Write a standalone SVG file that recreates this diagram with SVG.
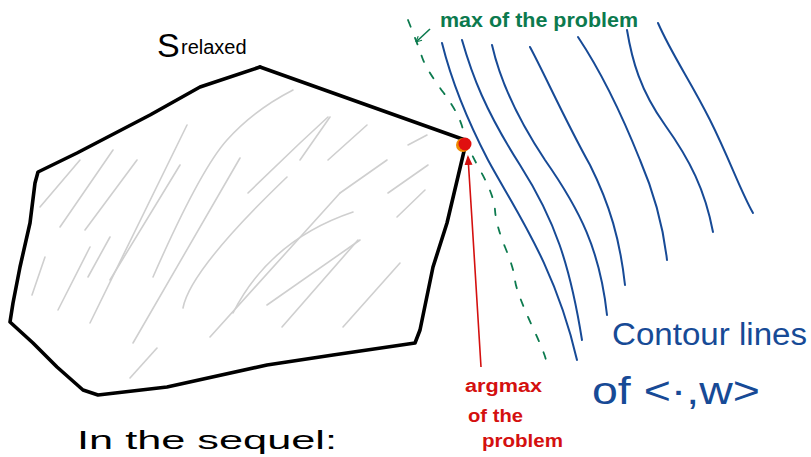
<svg xmlns="http://www.w3.org/2000/svg" width="811" height="457" viewBox="0 0 811 457">
<defs>
<style>
.hatch{fill:none;stroke:#cfcfcf;stroke-width:1.6;stroke-linecap:round;stroke-linejoin:round}
.poly{fill:none;stroke:#000;stroke-width:3.6;stroke-linecap:round;stroke-linejoin:round}
.contour{fill:none;stroke:#174a96;stroke-width:2;stroke-linecap:round;stroke-linejoin:round}
.maxline{fill:none;stroke:#0c7a4e;stroke-width:1.8;stroke-dasharray:7 12;stroke-linecap:round}
.hand{font-family:"Liberation Sans",Arial,sans-serif}
</style>
<marker id="gArrow" viewBox="0 0 10 10" refX="9" refY="5" markerWidth="7" markerHeight="7" orient="auto-start-reverse" markerUnits="userSpaceOnUse">
<path d="M1,1 L9,5 L1,9" fill="none" stroke="#0c7a4e" stroke-width="1.6"/>
</marker>
<marker id="rArrow" viewBox="0 0 10 10" refX="8" refY="5" markerWidth="10" markerHeight="10" orient="auto" markerUnits="userSpaceOnUse">
<path d="M0,1 L10,5 L0,9 Z" fill="#d4100f"/>
</marker>
</defs>
<rect width="811" height="457" fill="#fff"/>

<g id="feasible-set">
<g id="hatching">
<path class="hatch" d="M60,227 L113,150"/>
<path class="hatch" d="M85,230 L137,160"/>
<path class="hatch" d="M40,207 L80,160"/>
<path class="hatch" d="M32,295 L45,257"/>
<path class="hatch" d="M58,310 L90,247"/>
<path class="hatch" d="M90,323 L187,125"/>
<path class="hatch" d="M110,280 L180,165"/>
<path class="hatch" d="M133,343 L240,158"/>
<path class="hatch" d="M153,277 Q200,170 227,140 T293,90"/>
<path class="hatch" d="M183,308 Q190,270 287,177"/>
<path class="hatch" d="M210,337 L340,193"/>
<path class="hatch" d="M233,313 Q270,240 353,212"/>
<path class="hatch" d="M267,305 L360,240"/>
<path class="hatch" d="M282,327 L358,240"/>
<path class="hatch" d="M343,327 L400,263"/>
<path class="hatch" d="M248,193 L300,143 L328,117"/>
<path class="hatch" d="M300,160 L330,117"/>
<path class="hatch" d="M328,160 L367,125"/>
<path class="hatch" d="M340,193 L387,160"/>
<path class="hatch" d="M388,193 L428,165"/>
<path class="hatch" d="M397,217 L425,190"/>
<path class="hatch" d="M408,145 L427,135"/>
<path class="hatch" d="M130,378 L157,348"/>
<path class="hatch" d="M88,277 L110,237"/>
</g>
<path class="poly" d="M260,67 L465,140"/>
<path class="poly" d="M465,147 L447,223 L433,267 L420,330 L415,343 L333,355 L267,365 L167,387 L98,395 L83,390 L57,367 L33,343 L10,322 L13,303 L20,267 L30,223 L35,183 L38,172 L77,153 L150,115 L200,87 L260,67"/>
<text class="hand" x="157" y="57" font-size="34" fill="#000">S<tspan font-size="20" x="181" y="54">relaxed</tspan></text>
</g>

<g id="contours">
<path class="contour" d="M442,43 C450,75 462,110 488,160 C515,210 555,265 577,360"/>
<path class="contour" d="M462,40 C472,75 485,110 520,165 C555,220 570,265 582,340"/>
<path class="contour" d="M492,45 C500,80 515,115 545,160 C580,210 600,250 607,315"/>
<path class="contour" d="M530,47 C545,75 565,120 590,165 C610,205 620,240 625,285"/>
<path class="contour" d="M578,37 C600,70 620,110 640,160 C655,195 663,225 667,260"/>
<path class="contour" d="M627,30 C632,60 640,90 665,125 C690,160 705,190 713,232"/>
<path class="contour" d="M658,23 C672,55 690,80 710,120 C730,160 740,190 753,213"/>
<text class="hand" x="612" y="345" font-size="31" fill="#174a96" textLength="195" lengthAdjust="spacingAndGlyphs">Contour lines</text>
<text class="hand" x="592" y="404" font-size="38" fill="#174a96" textLength="168" lengthAdjust="spacingAndGlyphs">of &lt;·,w&gt;</text>
</g>

<g id="max-line">
<path class="maxline" d="M408,20 Q418,45 422,57 T443,92 T463,130 T480,170 T495,210 T505,247 T515,280 T533,328 T545,362"/>
<text class="hand" x="440" y="27" font-size="20" font-weight="bold" fill="#0c7a4e" textLength="198" lengthAdjust="spacingAndGlyphs">max of the problem</text>
</g>

<g id="argmax">
<circle cx="463" cy="145" r="7" fill="#f08a00"/>
<circle cx="465" cy="144" r="6.5" fill="#e01010"/>
<text class="hand" font-size="18" font-weight="bold" fill="#d4100f">
<tspan x="465" y="392" textLength="77" lengthAdjust="spacingAndGlyphs">argmax</tspan>
<tspan x="468" y="422" textLength="55" lengthAdjust="spacingAndGlyphs">of the</tspan>
<tspan x="482" y="447" textLength="81" lengthAdjust="spacingAndGlyphs">problem</tspan>
</text>
</g>

<g id="connectors">
<path d="M430,29 L416,42" fill="none" stroke="#0c7a4e" stroke-width="1.6" marker-end="url(#gArrow)"/>
<path d="M481,367 L472,220 L468,157" fill="none" stroke="#d4100f" stroke-width="1.6" marker-end="url(#rArrow)"/>
</g>

<g id="sequel">
<text class="hand" x="77" y="449" font-size="26" fill="#000" textLength="260" lengthAdjust="spacingAndGlyphs">In the sequel:</text>
</g>
</svg>
